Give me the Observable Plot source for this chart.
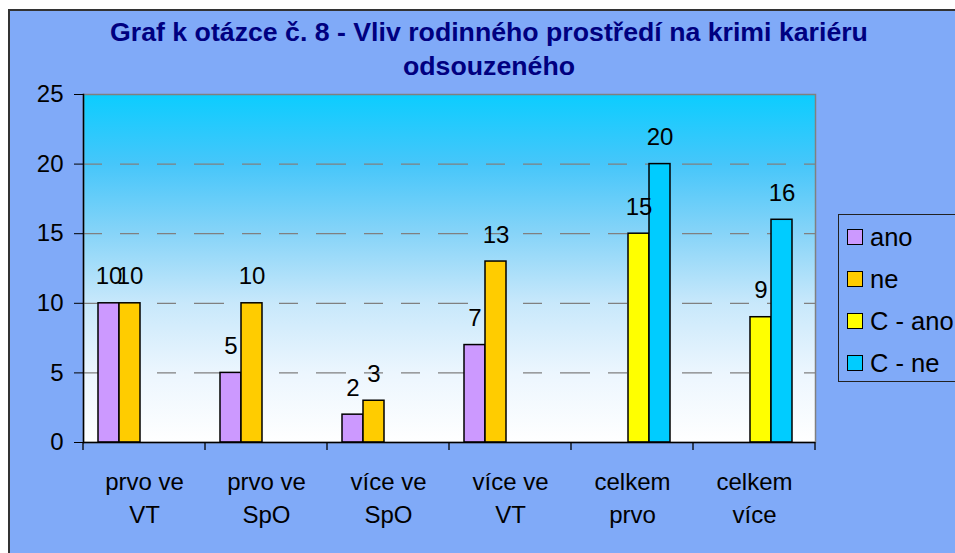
<!DOCTYPE html>
<html>
<head>
<meta charset="utf-8">
<script src="https://cdn.jsdelivr.net/npm/d3@7"></script>
<script src="https://cdn.jsdelivr.net/npm/@observablehq/plot@0.6"></script>
<style>
  html, body { margin: 0; padding: 0; background: #fff; overflow: hidden; width: 955px; height: 553px; }
  body { font-family: "Liberation Sans", Arial, sans-serif; position: relative; }
  #chart { position: absolute; left: 8px; top: 9px; width: 1000px; height: 600px; background: #80aaf8;
           border-left: 2px solid #333; border-top: 2px solid #333; box-sizing: border-box; }
  #title { position: absolute; left: 0; top: 4px; width: 958px; text-align: center; color: #000080;
           font-weight: bold; font-size: 26.7px; line-height: 34px; }
  #plot { position: absolute; left: 0; top: 80px; }
  #legend { position: absolute; left: 838px; top: 214px; width: 200px; height: 168px; border: 1px solid #222;
            box-sizing: border-box; padding-top: 1px; }
  .item { height: 42px; display: flex; align-items: center; font-size: 25.5px; color: #000; white-space: nowrap; }
  .sw { flex: none; width: 16px; height: 16px; box-sizing: border-box; border: 1.5px solid #000; margin-left: 8px; margin-right: 7px; }
</style>
</head>
<body>
<svg width="0" height="0" style="position:absolute">
  <defs>
    <linearGradient id="bg" x1="0" y1="0" x2="0" y2="1">
      <stop offset="0" stop-color="rgb(12,205,255)"/>
      <stop offset="0.2" stop-color="rgb(70,198,250)"/>
      <stop offset="0.4" stop-color="rgb(135,212,248)"/>
      <stop offset="0.6" stop-color="rgb(200,232,251)"/>
      <stop offset="0.8" stop-color="rgb(236,246,254)"/>
      <stop offset="1" stop-color="#ffffff"/>
    </linearGradient>
  </defs>
</svg>
<div id="chart">
  <div id="title">Graf k otázce č. 8 - Vliv rodinného prostředí na krimi kariéru<br>odsouzeného</div>
</div>
<div id="plot"></div>
<div id="legend"></div>
<script>
// ---- data ----
const categories = ["prvo ve\nVT", "prvo ve\nSpO", "více ve\nSpO", "více ve\nVT", "celkem\nprvo", "celkem\nvíce"];
const seriesNames = ["ano", "ne", "C - ano", "C - ne"];
const ano   = [10, 5, 2, 7, null, null];
const ne    = [10, 10, 3, 13, null, null];
const cAno  = [null, null, null, null, 15, 9];
const cNe   = [null, null, null, null, 20, 16];
const colors = ["#cc99ff", "#ffcc00", "#ffff00", "#00ccff"];
const yTicks = [0, 5, 10, 15, 20, 25];

const seriesValues = [ano, ne, cAno, cNe];
const rows = [];
seriesNames.forEach((s, si) => {
  categories.forEach((c, ci) => {
    const v = seriesValues[si][ci];
    if (v != null) rows.push({cat: c, series: s, value: v});
  });
});

const font = "'Liberation Sans', Arial, sans-serif";

const plot = Plot.plot({
  width: 830,
  height: 470,
  marginLeft: 82,
  marginTop: 14,
  marginRight: 14,
  marginBottom: 108,
  style: {fontFamily: font, fontSize: "24px", color: "#000", background: "transparent", overflow: "visible"},
  fx: {domain: categories, padding: 0, label: null, axis: null},
  x: {domain: seriesNames, paddingInner: 0, paddingOuter: 0.8, align: 0.4, axis: null},
  y: {domain: [0, 25], axis: null},
  color: {domain: seriesNames, range: colors},
  marks: [
    Plot.frame({fill: "url(#bg)", facet: "super"}),
    Plot.gridY(yTicks.filter(t => t > 0 && t < 25), {stroke: "#808080", strokeOpacity: 1, strokeWidth: 1.2, strokeDasharray: "19,18"}),
    Plot.frame({stroke: "#808080", strokeWidth: 1.5, facet: "super"}),
    Plot.barY(rows, {fx: "cat", x: "series", y: "value", fill: "series", stroke: "#000", strokeWidth: 1.5}),
    Plot.text(rows, {fx: "cat", x: "series", y: "value", text: d => String(d.value), lineAnchor: "bottom", dy: -19, fill: "#000", fontSize: 24}),
    Plot.ruleY([0], {stroke: "#000", strokeWidth: 1.5}),
    Plot.frame({anchor: "left", stroke: "#000", strokeWidth: 1.5, facet: "super"}),
    Plot.axisY({ticks: yTicks, tickSize: 9, tickPadding: 11, stroke: "#000", fontSize: 24, label: null}),
    Plot.axisFx({anchor: "bottom", tickSize: 0, tickPadding: 24, lineHeight: 1.375, fontSize: 24, label: null})
  ]
});
document.getElementById("plot").appendChild(plot);

// category boundary ticks on the x axis, from Plot's own fx and y scales
const fx = plot.scale("fx");
const ys = plot.scale("y");
const y0 = ys.apply(0);
const edges = categories.map(c => fx.apply(c));
edges.push(fx.apply(categories[categories.length - 1]) + fx.bandwidth);
d3.select(plot).append("g")
  .attr("stroke", "#000").attr("stroke-width", 1.3)
  .selectAll("line").data(edges).join("line")
  .attr("x1", d => d).attr("x2", d => d)
  .attr("y1", y0).attr("y2", y0 + 8);

// legend
const legend = d3.select("#legend");
seriesNames.forEach((s, i) => {
  const it = legend.append("div").attr("class", "item");
  it.append("div").attr("class", "sw").style("background", colors[i]);
  it.append("span").text(s);
});
</script>
</body>
</html>
